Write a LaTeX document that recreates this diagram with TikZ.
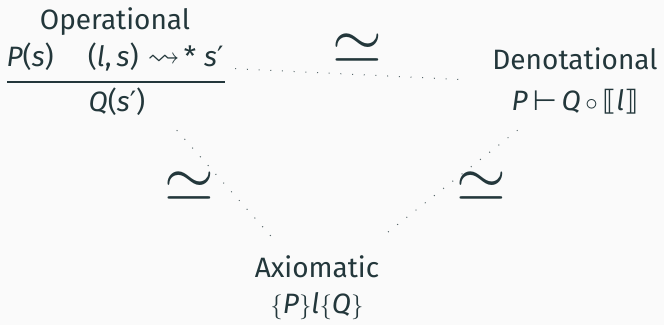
\documentclass[tikz,border=0pt]{standalone}
\usepackage{amssymb}
\usepackage{fontspec}
\setmainfont{Fira Sans}
\newfontfamily\sym{DejaVu Sans}
\definecolor{fg}{HTML}{23373B}
\definecolor{bg}{HTML}{FAFAFA}
\newcommand{\mi}[1]{\textit{#1}}
\newcommand{\prm}{{\sym ′}}
\begin{document}
\begin{tikzpicture}[x=1pt,y=-1pt,
  txt/.style={text=fg, inner sep=0pt, font=\fontsize{28}{30}\selectfont, anchor=base},
  grp/.style={draw=none, rectangle, inner sep=0pt},
  eqv/.style={text=fg, inner sep=0pt},
  link/.style={draw=fg!75, line width=1pt, dash pattern=on 1pt off 10.7pt}]
\fill[bg] (0,0) rectangle (664,325);
\useasboundingbox (0,0) rectangle (664,325);
% group boxes (invisible) used as connector ends
\node[grp, minimum width=236pt, minimum height=134pt] (op) at (117,63) {};
\node[grp, minimum width=212pt, minimum height=90pt] (den) at (575,85) {};
\node[grp, minimum width=140pt, minimum height=102pt] (ax) at (317,288) {};
% texts
\node[txt] (opT) at (115,29) {Operational};
\node[txt] (opN) at (115,66) {\mi{P}(\mi{s})\hspace{34pt}(\mi{l},\hspace{5pt}\mi{s})\hspace{9pt}\scalebox{1.15}{$\leadsto$}\hspace{4pt}*\hspace{8pt}\mi{s}\prm};
\draw[fg, line width=1.8pt] (7,82) -- (225,82);
\node[txt] (opD) at (117,111) {\mi{Q}(\mi{s}\prm)};
\node[txt] (denT) at (575,69) {Denotational};
\node[txt] (denF) at (575,110) {\mi{P}\,{\sym ⊢}\,\mi{Q}\,$\circ$\,{\sym ⟦}\mi{l}{\sym ⟧}};
\node[txt] (axT) at (317,277) {Axiomatic};
\node[txt] (axF) at (317,313) {$\{$\mi{P}$\}$\mi{l}$\{$\mi{Q}$\}$};
% connectors
\draw[link] (op) -- (den);
\draw[link] (op) -- (ax);
\draw[link] (den) -- (ax);
% equivalence marks
\node[eqv] (eqTop) at (357,49) {\scalebox{6.4}{$\simeq$}};
\node[eqv] (eqLeft) at (189.5,187) {\scalebox{6.4}{$\simeq$}};
\node[eqv] (eqRight) at (481.5,187) {\scalebox{6.4}{$\simeq$}};
\end{tikzpicture}
\end{document}
